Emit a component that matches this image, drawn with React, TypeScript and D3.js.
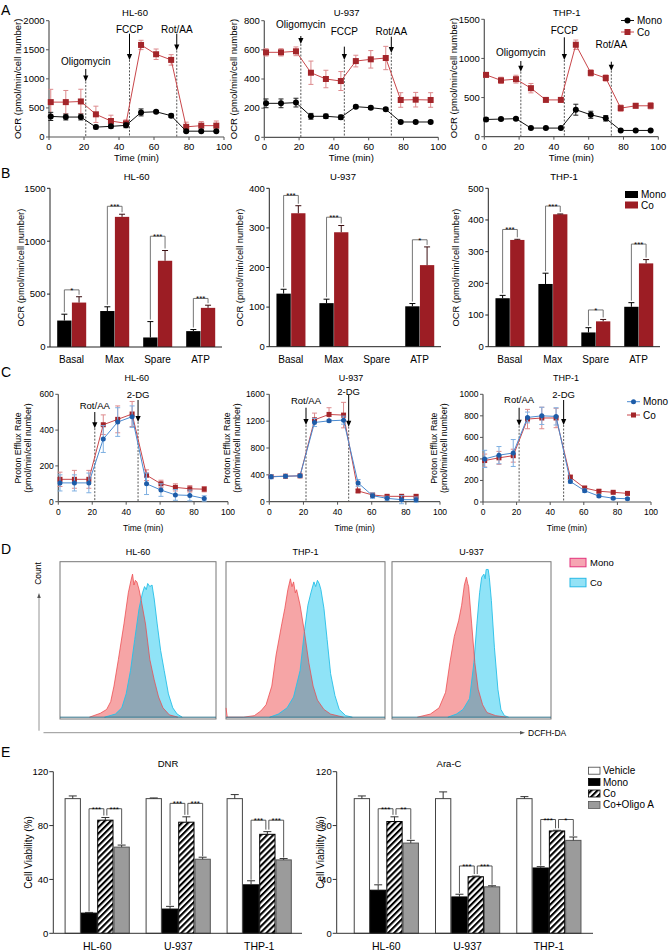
import React from 'react';
import * as d3 from 'd3';

const FONT = "'Liberation Sans', Arial, Helvetica, sans-serif";
const AXIS = '#555';

// ---------------- Panel A (OCR time course) ----------------
const A_TIMES = [1, 9.6, 18.2, 26.8, 35.4, 44, 52.6, 61.2, 69.8, 78.4, 87, 95.6];
const A_X_TICKS = [0, 20, 40, 60, 80, 100];
const A_INJECTIONS = ['Oligomycin', 'FCCP', 'Rot/AA'];
const A_INJ_TIMES = [21, 46, 73];

const A_HL60_MONO = [354, 343, 343, 170, 183, 200, 423, 434, 366, 100, 100, 100];
const A_HL60_MONO_ERR = [70, 50, 50, 30, 30, 40, 60, 20, 30, 20, 15, 15];
const A_HL60_CO = [600, 600, 611, 390, 275, 235, 1583, 1423, 1326, 175, 195, 195];
const A_HL60_CO_ERR = [220, 200, 210, 140, 100, 60, 80, 90, 90, 80, 70, 80];
const A_HL60_ARROW_TOP = [1170, 1777, 1777];
const A_HL60_ARROW_TIP = [954, 1326, 1486];
const A_HL60_LABEL_Y = [1290, 1857, 1857];

const A_U937_MONO = [233, 233, 238, 144, 144, 137, 210, 203, 192, 105, 105, 105];
const A_U937_MONO_ERR = [30, 30, 30, 20, 15, 15, 10, 10, 10, 8, 8, 8];
const A_U937_CO = [583, 583, 590, 443, 400, 386, 523, 535, 544, 256, 258, 256];
const A_U937_CO_ERR = [25, 25, 30, 80, 60, 65, 40, 60, 80, 50, 50, 50];
const A_U937_ARROW_TOP = [695, 622, 690];
const A_U937_ARROW_TIP = [640, 530, 578];
const A_U937_LABEL_Y = [772, 727, 727];

const A_THP1_MONO = [220, 225, 230, 110, 110, 110, 345, 280, 235, 80, 80, 80];
const A_THP1_MONO_ERR = [20, 15, 15, 10, 10, 10, 70, 45, 35, 10, 10, 10];
const A_THP1_CO = [790, 720, 735, 620, 470, 470, 1175, 815, 750, 365, 395, 395];
const A_THP1_CO_ERR = [30, 40, 50, 60, 20, 20, 60, 40, 40, 40, 30, 40];
const A_THP1_ARROW_TOP = [967, 1270, 958];
const A_THP1_ARROW_TIP = [830, 980, 843];
const A_THP1_LABEL_Y = [1078, 1363, 1184];

// ---------------- Panel B (OCR parameters) ----------------
const B_CATS = ['Basal', 'Max', 'Spare', 'ATP'];
const B_HL60_MONO = [250, 340, 90, 150];
const B_HL60_MONO_ERR = [60, 40, 150, 15];
const B_HL60_CO = [420, 1230, 815, 370];
const B_HL60_CO_ERR = [55, 25, 97, 25];
const B_HL60_SIG = ['*', '***', '***', '***'];
const B_HL60_BRACKET = [540, 1330, 1047, 459];

const B_U937_MONO = [134, 110, null, 102];
const B_U937_MONO_ERR = [11, 10, null, 7];
const B_U937_CO = [337, 289, null, 206];
const B_U937_CO_ERR = [19, 17, null, 46];
const B_U937_SIG = ['***', '***', '', '*'];
const B_U937_BRACKET = [382, 327, null, 270];

const B_THP1_MONO = [153, 198, 45, 126];
const B_THP1_MONO_ERR = [9, 34, 15, 13];
const B_THP1_CO = [337, 418, 80, 263];
const B_THP1_CO_ERR = [2, 1, 6, 12];
const B_THP1_SIG = ['***', '***', '*', '***'];
const B_THP1_BRACKET = [370, 444, 116, 324];

// ---------------- Panel C (proton efflux) ----------------
const C_TIMES = [1, 9.5, 18, 26.5, 35, 43.5, 52, 60.5, 69, 77.5, 86];
const C_X_TICKS = [0, 20, 40, 60, 80, 100];
const C_INJECTIONS = ['Rot/AA', '2-DG'];

const C_HL60_MONO = [105, 105, 105, 350, 445, 475, 100, 65, 38, 35, 18];
const C_HL60_MONO_ERR = [45, 45, 55, 75, 80, 60, 60, 35, 30, 30, 15];
const C_HL60_CO = [125, 125, 125, 430, 460, 490, 148, 100, 80, 72, 70];
const C_HL60_CO_ERR = [40, 50, 50, 55, 75, 70, 30, 20, 20, 18, 15];
const C_HL60_INJ_T = [21.5, 47];
const C_HL60_ARROW_TOP = [501, 568];
const C_HL60_ARROW_TIP = [411, 445];
const C_HL60_LABEL_Y = [536, 596];

const C_U937_MONO = [370, 380, 385, 1180, 1205, 1215, 280, 90, 50, 30, 30];
const C_U937_MONO_ERR = [30, 20, 20, 60, 20, 60, 50, 40, 30, 60, 40];
const C_U937_CO = [375, 380, 385, 1220, 1300, 1290, 160, 100, 80, 80, 80];
const C_U937_CO_ERR = [20, 20, 20, 100, 100, 190, 20, 20, 20, 20, 20];
const C_U937_INJ_T = [21.5, 46.5];
const C_U937_ARROW_TOP = [1400, 1590];
const C_U937_ARROW_TIP = [1143, 1118];
const C_U937_LABEL_Y = [1505, 1639];

const C_THP1_MONO = [400, 435, 455, 785, 800, 795, 190, 105, 55, 35, 30];
const C_THP1_MONO_ERR = [80, 80, 125, 50, 80, 80, 15, 15, 10, 10, 10];
const C_THP1_CO = [385, 410, 430, 770, 780, 780, 230, 130, 100, 90, 80];
const C_THP1_CO_ERR = [60, 60, 60, 90, 100, 90, 20, 15, 15, 10, 10];
const C_THP1_INJ_T = [21.5, 48];
const C_THP1_ARROW_TOP = [875, 947];
const C_THP1_ARROW_TIP = [708, 715];
const C_THP1_LABEL_Y = [947, 993];

// ---------------- Panel D (DCFH-DA histograms: [position, count]) ----------------
const D_TITLES = ['HL-60', 'THP-1', 'U-937'];
const D_HL60_MONO = [[18.8, 0], [25.8, 2.5], [29.9, 5], [32.5, 10], [34.6, 20], [37.4, 37], [41, 60], [43.8, 80], [45.5, 88], [46.5, 92], [47.4, 85], [48.3, 88], [49.3, 87], [50.7, 82], [52.1, 75], [54.8, 60], [57.6, 37], [60.4, 24], [63.2, 13], [66, 6], [70.1, 1.5], [75.6, 0]];
const D_HL60_CO = [[28.5, 0], [35.5, 2], [39.6, 6], [42.4, 15], [45.2, 30], [47.9, 50], [50.7, 70], [52.9, 80], [54.2, 84], [55.3, 82], [56.2, 86], [57.6, 84], [59, 85], [60.4, 76], [62.3, 60], [64.5, 43], [66.8, 30], [69.5, 15], [72.3, 6], [75.1, 2], [78.4, 0]];
const D_THP1_MONO = [[0, 6], [0.8, 0], [11, 0], [17.8, 1], [21.9, 4], [25.2, 8], [28.8, 20], [31.5, 40], [35.1, 60], [37, 70], [38.9, 82], [40.5, 89], [41.5, 84], [42.5, 87], [43.6, 80], [44.4, 82], [46.6, 72], [49.3, 55], [52.1, 35], [54.8, 20], [57.5, 11], [61.6, 5], [65.8, 2], [74, 0]];
const D_THP1_CO = [[27.4, 0], [32.9, 2], [38.4, 6], [42.5, 13], [46.6, 30], [49.3, 55], [51.5, 72], [53.4, 80], [55.3, 87], [56.4, 84], [57.5, 88], [58.6, 86], [59.7, 82], [61.6, 70], [63.6, 50], [65.8, 28], [68.5, 14], [71.2, 5], [75.3, 1], [79.5, 0]];
const D_U937_MONO = [[15.9, 0], [24.1, 2], [29.6, 6], [33.7, 16], [36.4, 35], [39.2, 52], [41.9, 62], [43.8, 72], [45.5, 85], [46.8, 90], [47.6, 86], [48.2, 84], [50.1, 60], [52.1, 35], [54.2, 18], [57, 8], [59.7, 3], [65.2, 1], [72, 0]];
const D_U937_CO = [[35.1, 0], [40.5, 2], [44.7, 5], [48.8, 12], [51.5, 35], [53.4, 60], [55.1, 80], [56.4, 90], [57.8, 92], [58.6, 89], [59.2, 95], [60.5, 95], [61.2, 90], [62.5, 75], [64.4, 45], [66.6, 18], [68.5, 5], [70.7, 1], [73.4, 0]];

// ---------------- Panel E (cell viability) ----------------
const E_GROUPS = ['HL-60', 'U-937', 'THP-1'];
const E_SERIES = ['Vehicle', 'Mono', 'Co', 'Co+Oligo A'];
const E_Y_TICKS = [0, 40, 80, 120];

const DNR_VEHICLE = [100, 100, 100];
const DNR_VEHICLE_ERR = [2, 0.5, 3];
const DNR_MONO = [15, 18, 36];
const DNR_MONO_ERR = [0.5, 2, 3];
const DNR_CO = [84, 82.5, 73.5];
const DNR_CO_ERR = [2, 4, 2];
const DNR_OLIGO = [64, 55, 54.5];
const DNR_OLIGO_ERR = [1.5, 1.5, 1];
const DNR_SIG_MONO_CO = ['***', '***', '***'];
const DNR_SIG_CO_OLIGO = ['***', '***', '***'];
const DNR_BRACKET = [92.5, 96.5, 84];

const ARAC_VEHICLE = [100, 100, 100];
const ARAC_VEHICLE_ERR = [2, 5, 1.5];
const ARAC_MONO = [32, 27, 48.5];
const ARAC_MONO_ERR = [4, 2, 1];
const ARAC_CO = [83, 42, 76];
const ARAC_CO_ERR = [3.5, 0.5, 0.5];
const ARAC_OLIGO = [67, 34.5, 69];
const ARAC_OLIGO_ERR = [2, 0.8, 2.5];
const ARAC_SIG_MONO_CO = ['***', '***', '***'];
const ARAC_SIG_CO_OLIGO = ['**', '***', '*'];
const ARAC_BRACKET = [92.5, 50, 84.5];

// ---------------- colours ----------------
const MONO_BLACK = { line: '#111', mark: '#000', err: '#222', shape: 'circle' };
const CO_RED = { line: '#c9474b', mark: '#a3252a', err: '#dd8a8d', shape: 'square' };
const MONO_BLUE = { line: '#4a8ad0', mark: '#1d5ca8', err: '#7fb0e2', shape: 'circle' };
const BAR_RED = '#9c1d24';

function ErrorBar({ x, yHi, yLo, w, color, sw = 1 }: any) {
  return (
    <g stroke={color} strokeWidth={sw}>
      <line x1={x} x2={x} y1={yHi} y2={yLo} />
      <line x1={x - w / 2} x2={x + w / 2} y1={yHi} y2={yHi} />
    </g>
  );
}

function ErrorBar2({ x, yHi, yLo, w, color }: any) {
  return (
    <g stroke={color} strokeWidth={1}>
      <line x1={x} x2={x} y1={yHi} y2={yLo} />
      <line x1={x - w / 2} x2={x + w / 2} y1={yHi} y2={yHi} />
      <line x1={x - w / 2} x2={x + w / 2} y1={yLo} y2={yLo} />
    </g>
  );
}

function Marker({ shape, x, y, size, color }: any) {
  if (shape === 'circle') return <circle cx={x} cy={y} r={size / 2} fill={color} />;
  return <rect x={x - size / 2} y={y - size / 2} width={size} height={size} fill={color} />;
}

function LineChart(p: any) {
  const x = d3.scaleLinear().domain([0, 100]).range([p.x0, p.x1]);
  const y = d3.scaleLinear().domain([0, p.yMax]).range([p.yBot, p.yTop]);
  const mid = (p.yTop + p.yBot) / 2;
  const lineGen = d3.line<[number, number]>();
  return (
    <g>
      {p.injLabels.map((lab: string, i: number) => {
        const ax = x(p.injT[i]);
        const tip = y(p.arrowTip[i]);
        return (
          <g key={lab}>
            <line x1={ax} x2={ax} y1={tip} y2={p.yBot} stroke="#444" strokeWidth={0.9} strokeDasharray="2,1.5" />
            <line x1={ax} x2={ax} y1={y(p.arrowTop[i])} y2={tip - 5} stroke="#000" strokeWidth={1} />
            <path d={`M${ax - 2.6},${tip - 6}L${ax + 2.6},${tip - 6}L${ax},${tip}Z`} fill="#000" />
            <text x={ax} y={y(p.labelY[i])} dy="0.35em" textAnchor="middle" fontSize={p.annFs}>{lab}</text>
          </g>
        );
      })}
      <line x1={p.x0} x2={p.x0} y1={p.yBot} y2={p.yTop} stroke={AXIS} strokeWidth={1.2} />
      <line x1={p.x0} x2={p.x1} y1={p.yBot} y2={p.yBot} stroke={AXIS} strokeWidth={1.2} />
      {p.yTicks.map((t: number) => (
        <g key={'y' + t}>
          <line x1={p.x0 - 3} x2={p.x0} y1={y(t)} y2={y(t)} stroke={AXIS} />
          <text x={p.x0 - 4.5} y={y(t)} dy="0.35em" textAnchor="end" fontSize={p.tickFs}>{t}</text>
        </g>
      ))}
      {p.xTicks.map((t: number) => (
        <g key={'x' + t}>
          <line x1={x(t)} x2={x(t)} y1={p.yBot} y2={p.yBot + 3} stroke={AXIS} />
          <text x={x(t)} y={p.tickY} textAnchor="middle" fontSize={p.tickFs}>{t}</text>
        </g>
      ))}
      <text x={(p.x0 + p.x1) / 2} y={p.timeY} textAnchor="middle" fontSize={p.labelFs}>Time (min)</text>
      <text x={p.titleX} y={p.titleY} dy="0.35em" textAnchor="middle" fontSize={p.titleFs}>{p.title}</text>
      {p.ylabel.map((s: string, i: number) => (
        <text key={s} transform={`translate(${p.ylabelX[i]},${mid}) rotate(-90)`} dy="0.35em" textAnchor="middle" fontSize={p.ylabelFs}>{s}</text>
      ))}
      {p.series.map((s: any, si: number) => {
        const pts: [number, number][] = s.values.map((v: number, i: number) => [x(p.times[i]), y(v)]);
        return (
          <g key={si}>
            {s.values.map((v: number, i: number) => (
              <ErrorBar2 key={i} x={x(p.times[i])} yHi={y(v + s.errs[i])} yLo={y(v - s.errs[i])} w={5} color={s.style.err} />
            ))}
            <path d={lineGen(pts) || ''} fill="none" stroke={s.style.line} strokeWidth={1} />
            {pts.map(([px, py], i) => (
              <Marker key={i} shape={s.style.shape} x={px} y={py} size={p.markSize} color={s.style.mark} />
            ))}
          </g>
        );
      })}
      {p.legend &&
        p.legend.items.map((it: any, i: number) => {
          const ly = p.legend.y + i * p.legend.dy;
          return (
            <g key={it.label}>
              <line x1={p.legend.x} x2={p.legend.x + 13} y1={ly} y2={ly} stroke={it.style.line} />
              <Marker shape={it.style.shape} x={p.legend.x + 6.5} y={ly} size={p.markSize} color={it.style.mark} />
              <text x={p.legend.x + 16} y={ly} dy="0.35em" fontSize={p.legend.fs}>{it.label}</text>
            </g>
          );
        })}
    </g>
  );
}

function Bracket({ xa, xb, yTop, ya, yb, label, fs, color }: any) {
  return (
    <g>
      <path d={`M${xa},${ya}V${yTop}H${xb}V${yb}`} fill="none" stroke={color} strokeWidth={0.9} />
      <text x={(xa + xb) / 2} y={yTop + 3} textAnchor="middle" fontSize={fs}>{label}</text>
    </g>
  );
}

function PairBars(p: any) {
  const xb = d3.scaleBand().domain(B_CATS).range([p.x0, p.x1]);
  const y = d3.scaleLinear().domain([0, p.yMax]).range([p.yBot, p.yTop]);
  const bw = 14.3;
  const mid = (p.yTop + p.yBot) / 2;
  return (
    <g>
      {B_CATS.map((c, i) => {
        const cx = (xb(c) as number) + xb.bandwidth() / 2;
        const m = p.mono[i];
        const co = p.co[i];
        if (m == null || co == null) return null;
        const mTop = y(m + p.monoErr[i]);
        const cTop = y(co + p.coErr[i]);
        return (
          <g key={c}>
            <rect x={cx - bw} y={y(m)} width={bw} height={p.yBot - y(m)} fill="#000" />
            <rect x={cx + 0.4} y={y(co)} width={bw} height={p.yBot - y(co)} fill={BAR_RED} />
            <ErrorBar x={cx - bw / 2} yHi={mTop} yLo={y(m)} w={6} color="#000" />
            <ErrorBar x={cx + 0.4 + bw / 2} yHi={cTop} yLo={y(co)} w={6} color="#3a0d10" />
            {p.bracket[i] != null && (
              <Bracket xa={cx - bw / 2} xb={cx + 0.4 + bw / 2} yTop={y(p.bracket[i])} ya={mTop - 2} yb={cTop - 2} label={p.sig[i]} fs={8} color="#666" />
            )}
          </g>
        );
      })}
      <line x1={p.x0} x2={p.x0} y1={p.yBot} y2={p.yTop} stroke="#222" strokeWidth={1} />
      <line x1={p.x0} x2={p.x1} y1={p.yBot} y2={p.yBot} stroke="#222" strokeWidth={1} />
      {p.yTicks.map((t: number) => (
        <g key={t}>
          <line x1={p.x0 - 3} x2={p.x0} y1={y(t)} y2={y(t)} stroke="#222" />
          <text x={p.x0 - 4.5} y={y(t)} dy="0.35em" textAnchor="end" fontSize={9.5}>{t}</text>
        </g>
      ))}
      {B_CATS.map((c) => (
        <text key={c} x={(xb(c) as number) + xb.bandwidth() / 2} y={p.yBot + 16} textAnchor="middle" fontSize={10}>{c}</text>
      ))}
      <text x={p.titleX} y={p.titleY} dy="0.35em" textAnchor="middle" fontSize={9.5}>{p.title}</text>
      <text transform={`translate(${p.ylabelX},${mid}) rotate(-90)`} dy="0.35em" textAnchor="middle" fontSize={9.3}>OCR (pmol/min/cell number)</text>
      {p.legend && (
        <g>
          <rect x={625} y={191} width={13} height={7} fill="#000" />
          <text x={641} y={194.5} dy="0.35em" fontSize={10}>Mono</text>
          <rect x={625} y={201.5} width={13} height={7} fill={BAR_RED} />
          <text x={641} y={205} dy="0.35em" fontSize={10}>Co</text>
        </g>
      )}
    </g>
  );
}

function Histogram({ x0, x1, yTop, yBot, mono, co, title, titleY, id }: any) {
  const x = d3.scaleLinear().domain([0, 100]).range([x0, x1]);
  const y = d3.scaleLinear().domain([0, 100]).range([yBot - 1.8, yTop]);
  const area = d3.area<number[]>().x((d) => x(d[0])).y0(y(0)).y1((d) => y(d[1]));
  const line = d3.line<number[]>().x((d) => x(d[0])).y((d) => y(d[1]));
  const mArea = area(mono) || '';
  const cArea = area(co) || '';
  return (
    <g>
      <defs>
        <clipPath id={id}>
          <path d={mArea} />
        </clipPath>
      </defs>
      <rect x={x0} y={yTop} width={x1 - x0} height={yBot - yTop} fill="#fff" stroke="#777" strokeWidth={1} />
      <path d={mArea} fill="#f6a5a6" />
      <path d={cArea} fill="#8fe3f7" />
      <path d={cArea} fill="#8fa7b6" clipPath={`url(#${id})`} />
      <path d={line(co) || ''} fill="none" stroke="#27bfe8" strokeWidth={0.9} />
      <path d={line(mono) || ''} fill="none" stroke="#ec4a4e" strokeWidth={0.9} strokeOpacity={0.85} />
      <line x1={x0} x2={x1} y1={y(0)} y2={y(0)} stroke="#2f6f86" strokeWidth={1} />
      <text x={(x0 + x1) / 2} y={titleY} dy="0.35em" textAnchor="middle" fontSize={9}>{title}</text>
    </g>
  );
}

function ViabilityChart(p: any) {
  const xb = d3.scaleBand().domain(E_GROUPS).range([p.bx0, p.bx1]);
  const y = d3.scaleLinear().domain([0, 120]).range([933.3, 771.7]);
  const bw = 16.3;
  const styles = [
    { fill: '#fff', stroke: '#444' },
    { fill: '#000', stroke: '#000' },
    { fill: 'url(#hatch)', stroke: '#000' },
    { fill: '#9b9b9b', stroke: '#555' },
  ];
  const mid = (771.7 + 933.3) / 2;
  return (
    <g>
      {E_GROUPS.map((g, gi) => {
        const c = (xb(g) as number) + xb.bandwidth() / 2;
        const bx = (i: number) => c - 2 * bw + i * bw;
        const tops = p.series.map((s: any) => y(s.v[gi] + s.e[gi]));
        return (
          <g key={g}>
            {p.series.map((s: any, si: number) => (
              <g key={si}>
                <rect x={bx(si) + 0.5} y={y(s.v[gi])} width={bw - 1} height={933.3 - y(s.v[gi])} fill={styles[si].fill} stroke={styles[si].stroke} strokeWidth={1} />
                <ErrorBar x={bx(si) + bw / 2} yHi={y(s.v[gi] + s.e[gi])} yLo={y(s.v[gi])} w={8} color="#333" />
              </g>
            ))}
            <Bracket xa={bx(1) + bw / 2} xb={bx(2) + bw / 2 - 1.5} yTop={y(p.bracket[gi])} ya={tops[1] - 1} yb={tops[2] - 2} label={p.sig1[gi]} fs={8} color="#444" />
            <Bracket xa={bx(2) + bw / 2 + 1.5} xb={bx(3) + bw / 2} yTop={y(p.bracket[gi])} ya={tops[2] - 2} yb={tops[3] - 1} label={p.sig2[gi]} fs={8} color="#444" />
            <text x={c} y={950} textAnchor="middle" fontSize={10.5}>{g}</text>
          </g>
        );
      })}
      <line x1={p.ax0} x2={p.ax0} y1={933.3} y2={771.7} stroke="#333" strokeWidth={1} />
      <line x1={p.ax0} x2={p.ax1} y1={933.3} y2={933.3} stroke="#333" strokeWidth={1} />
      {E_Y_TICKS.map((t) => (
        <g key={t}>
          <line x1={p.ax0 - 4} x2={p.ax0} y1={y(t)} y2={y(t)} stroke="#333" />
          <text x={p.ax0 - 5} y={y(t)} dy="0.35em" textAnchor="end" fontSize={9.5}>{t}</text>
        </g>
      ))}
      <text x={p.titleX} y={763.5} dy="0.35em" textAnchor="middle" fontSize={9.5}>{p.title}</text>
      <text transform={`translate(${p.ylabelX},${mid}) rotate(-90)`} dy="0.35em" textAnchor="middle" fontSize={10}>Cell Viability (%)</text>
    </g>
  );
}

export default function App() {
  const aCommon = { xTicks: A_X_TICKS, times: A_TIMES, injLabels: A_INJECTIONS, injT: A_INJ_TIMES, tickFs: 9.5, labelFs: 9.5, titleFs: 9.5, ylabelFs: 9.5, annFs: 10, markSize: 6, tickY: 150, timeY: 161, titleY: 12.5 };
  const cCommon = { xTicks: C_X_TICKS, times: C_TIMES, injLabels: C_INJECTIONS, tickFs: 8.5, labelFs: 8.5, titleFs: 9, ylabelFs: 8.8, annFs: 9.5, markSize: 5, tickY: 515, timeY: 531, titleY: 378 };
  return (
    <svg width={670} height={952} style={{ position: 'absolute', left: 0, top: 0, background: '#fff' }} fontFamily={FONT}>
      <defs>
        <pattern id="hatch" patternUnits="userSpaceOnUse" width={4.3} height={4.3} patternTransform="rotate(45)">
          <rect x={0} y={0} width={4.3} height={4.3} fill="#fff" />
          <rect x={0} y={0} width={2.1} height={4.3} fill="#000" />
        </pattern>
      </defs>

      {/* Panel letters */}
      <text x={1} y={15} fontSize={14}>A</text>
      <text x={1} y={178} fontSize={14}>B</text>
      <text x={1} y={377} fontSize={14}>C</text>
      <text x={1} y={554} fontSize={14}>D</text>
      <text x={1} y={757} fontSize={14}>E</text>

      {/* Panel A */}
      <LineChart {...aCommon} x0={49} x1={224} yTop={20.7} yBot={137} yMax={2000} yTicks={[0, 500, 1000, 1500, 2000]}
        title="HL-60" titleX={135} ylabel={['OCR (pmol/min/cell number)']} ylabelX={[18]}
        arrowTop={A_HL60_ARROW_TOP} arrowTip={A_HL60_ARROW_TIP} labelY={A_HL60_LABEL_Y}
        series={[{ values: A_HL60_CO, errs: A_HL60_CO_ERR, style: CO_RED }, { values: A_HL60_MONO, errs: A_HL60_MONO_ERR, style: MONO_BLACK }]} />
      <LineChart {...aCommon} x0={264.3} x1={438.3} yTop={20.7} yBot={137.3} yMax={800} yTicks={[0, 200, 400, 600, 800]}
        title="U-937" titleX={346.7} ylabel={['OCR (pmol/min/cell number)']} ylabelX={[233.3]}
        arrowTop={A_U937_ARROW_TOP} arrowTip={A_U937_ARROW_TIP} labelY={A_U937_LABEL_Y}
        series={[{ values: A_U937_CO, errs: A_U937_CO_ERR, style: CO_RED }, { values: A_U937_MONO, errs: A_U937_MONO_ERR, style: MONO_BLACK }]} />
      <LineChart {...aCommon} x0={484.3} x1={658.3} yTop={19.3} yBot={136.7} yMax={1500} yTicks={[0, 500, 1000, 1500]}
        title="THP-1" titleX={566.7} ylabel={['OCR (pmol/min/cell number)']} ylabelX={[453.3]}
        arrowTop={A_THP1_ARROW_TOP} arrowTip={A_THP1_ARROW_TIP} labelY={A_THP1_LABEL_Y}
        series={[{ values: A_THP1_CO, errs: A_THP1_CO_ERR, style: CO_RED }, { values: A_THP1_MONO, errs: A_THP1_MONO_ERR, style: MONO_BLACK }]}
        legend={{ x: 621, y: 20.5, dy: 11.5, fs: 10, items: [{ label: 'Mono', style: MONO_BLACK }, { label: 'Co', style: CO_RED }] }} />

      {/* Panel B */}
      <PairBars x0={50} x1={222} yTop={188.3} yBot={347} yMax={1500} yTicks={[0, 500, 1000, 1500]}
        mono={B_HL60_MONO} monoErr={B_HL60_MONO_ERR} co={B_HL60_CO} coErr={B_HL60_CO_ERR} sig={B_HL60_SIG} bracket={B_HL60_BRACKET}
        title="HL-60" titleX={136.7} titleY={176.5} ylabelX={21} />
      <PairBars x0={269.3} x1={441} yTop={188.3} yBot={346.7} yMax={400} yTicks={[0, 100, 200, 300, 400]}
        mono={B_U937_MONO} monoErr={B_U937_MONO_ERR} co={B_U937_CO} coErr={B_U937_CO_ERR} sig={B_U937_SIG} bracket={B_U937_BRACKET}
        title="U-937" titleX={343} titleY={176.5} ylabelX={240} />
      <PairBars x0={488.3} x1={660} yTop={188.3} yBot={346.7} yMax={500} yTicks={[0, 100, 200, 300, 400, 500]}
        mono={B_THP1_MONO} monoErr={B_THP1_MONO_ERR} co={B_THP1_CO} coErr={B_THP1_CO_ERR} sig={B_THP1_SIG} bracket={B_THP1_BRACKET}
        title="THP-1" titleX={564} titleY={176.5} ylabelX={456} legend />

      {/* Panel C */}
      <LineChart {...cCommon} x0={58.3} x1={228} yTop={394.3} yBot={501.7} yMax={600} yTicks={[0, 200, 400, 600]}
        title="HL-60" titleX={136.7} ylabel={['Proton Efflux Rate', '(pmol/min/cell number)']} ylabelX={[18, 28]}
        injT={C_HL60_INJ_T} arrowTop={C_HL60_ARROW_TOP} arrowTip={C_HL60_ARROW_TIP} labelY={C_HL60_LABEL_Y}
        series={[{ values: C_HL60_CO, errs: C_HL60_CO_ERR, style: CO_RED }, { values: C_HL60_MONO, errs: C_HL60_MONO_ERR, style: MONO_BLUE }]} />
      <LineChart {...cCommon} x0={269.3} x1={440} yTop={394.3} yBot={501.7} yMax={1600} yTicks={[0, 400, 800, 1200, 1600]}
        title="U-937" titleX={351} ylabel={['Proton Efflux Rate', '(pmol/min/cell number)']} ylabelX={[226.7, 236.7]}
        injT={C_U937_INJ_T} arrowTop={C_U937_ARROW_TOP} arrowTip={C_U937_ARROW_TIP} labelY={C_U937_LABEL_Y}
        series={[{ values: C_U937_CO, errs: C_U937_CO_ERR, style: CO_RED }, { values: C_U937_MONO, errs: C_U937_MONO_ERR, style: MONO_BLUE }]} />
      <LineChart {...cCommon} x0={483} x1={651} yTop={394.3} yBot={502} yMax={1000} yTicks={[0, 200, 400, 600, 800, 1000]}
        title="THP-1" titleX={566} ylabel={['Proton Efflux Rate', '(pmol/min/cell number)']} ylabelX={[434, 444]}
        injT={C_THP1_INJ_T} arrowTop={C_THP1_ARROW_TOP} arrowTip={C_THP1_ARROW_TIP} labelY={C_THP1_LABEL_Y}
        series={[{ values: C_THP1_CO, errs: C_THP1_CO_ERR, style: CO_RED }, { values: C_THP1_MONO, errs: C_THP1_MONO_ERR, style: MONO_BLUE }]}
        legend={{ x: 627, y: 401.7, dy: 13.3, fs: 10, items: [{ label: 'Mono', style: MONO_BLUE }, { label: 'Co', style: CO_RED }] }} />

      {/* Panel D */}
      <Histogram id="clipHL60" x0={60} x1={216} yTop={561.7} yBot={719} titleY={551.7} mono={D_HL60_MONO} co={D_HL60_CO} title={D_TITLES[0]} />
      <Histogram id="clipTHP1" x0={226} x1={385} yTop={561.7} yBot={719} titleY={551.7} mono={D_THP1_MONO} co={D_THP1_CO} title={D_TITLES[1]} />
      <Histogram id="clipU937" x0={392} x1={551} yTop={561.7} yBot={719} titleY={551.7} mono={D_U937_MONO} co={D_U937_CO} title={D_TITLES[2]} />
      <line x1={39} x2={39} y1={730.7} y2={597} stroke="#888" strokeWidth={0.9} />
      <path d="M37.2,598L40.8,598L39,593Z" fill="#555" />
      <line x1={43.5} x2={521} y1={732.7} y2={732.7} stroke="#888" strokeWidth={0.9} />
      <path d="M520,730.9L520,734.5L525,732.7Z" fill="#555" />
      <text transform="translate(38,573.5) rotate(-90)" dy="0.35em" textAnchor="middle" fontSize={8.5}>Count</text>
      <text x={528} y={732.7} dy="0.35em" fontSize={8.5}>DCFH-DA</text>
      <rect x={570} y={558.3} width={16} height={8.5} fill="#f6a5b3" stroke="#e3337c" strokeWidth={1} />
      <text x={590} y={562.5} dy="0.35em" fontSize={9.5}>Mono</text>
      <rect x={570} y={578.3} width={16} height={8.5} fill="#93e2f6" stroke="#27b9e6" strokeWidth={1} />
      <text x={590} y={582.5} dy="0.35em" fontSize={9.5}>Co</text>

      {/* Panel E */}
      <ViabilityChart ax0={53.3} ax1={302} bx0={56.7} bx1={299.7} title="DNR" titleX={168} ylabelX={28}
        series={[{ v: DNR_VEHICLE, e: DNR_VEHICLE_ERR }, { v: DNR_MONO, e: DNR_MONO_ERR }, { v: DNR_CO, e: DNR_CO_ERR }, { v: DNR_OLIGO, e: DNR_OLIGO_ERR }]}
        sig1={DNR_SIG_MONO_CO} sig2={DNR_SIG_CO_OLIGO} bracket={DNR_BRACKET} />
      <ViabilityChart ax0={336.7} ax1={593} bx0={345.7} bx1={589.5} title="Ara-C" titleX={449} ylabelX={320}
        series={[{ v: ARAC_VEHICLE, e: ARAC_VEHICLE_ERR }, { v: ARAC_MONO, e: ARAC_MONO_ERR }, { v: ARAC_CO, e: ARAC_CO_ERR }, { v: ARAC_OLIGO, e: ARAC_OLIGO_ERR }]}
        sig1={ARAC_SIG_MONO_CO} sig2={ARAC_SIG_CO_OLIGO} bracket={ARAC_BRACKET} />
      {E_SERIES.map((s, i) => {
        const fills = ['#fff', '#000', 'url(#hatch)', '#9b9b9b'];
        const strokes = ['#444', '#000', '#000', '#555'];
        const ly = 770.7 + i * 11.4;
        return (
          <g key={s}>
            <rect x={588.5} y={ly - 3.5} width={11.5} height={7} fill={fills[i]} stroke={strokes[i]} strokeWidth={0.8} />
            <text x={603} y={ly} dy="0.35em" fontSize={10}>{s}</text>
          </g>
        );
      })}
    </svg>
  );
}
